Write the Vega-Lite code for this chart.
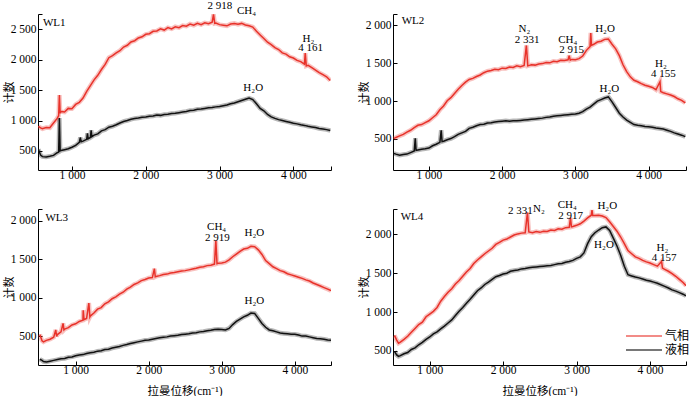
{
"$schema":"https://vega.github.io/schema/vega-lite/v6.json",
"background":"white",
"padding":{"left":3,"top":0,"right":0,"bottom":0},
"config":{"view":{"stroke":null},"font":"Liberation Serif",
"axis":{"grid":false,"domainColor":"#000","tickColor":"#000","labelColor":"#000","labelFont":"Liberation Serif","labelFontSize":11.5,"labelOverlap":false,"tickSize":-4,"domainWidth":1,"tickWidth":1,"titleFont":"Liberation Serif, Noto Sans CJK SC","titleFontSize":11.5,"titleFontWeight":"normal","titleColor":"#000"},
"text":{"font":"Liberation Serif","fontSize":11.5,"color":"#000"}},
"datasets":{
"wl1":[
{"x":545,"气相":905,"液相":525},{"x":575,"气相":880,"液相":430},{"x":600,"气相":865,"液相":405},{"x":650,"气相":885,"液相":400},{"x":700,"气相":880,"液相":410},{"x":750,"气相":960,"液相":425},{"x":800,"气相":1035,"液相":470},{"x":820,"气相":1080,"液相":480},{"x":830,"气相":1420,"液相":1040},{"x":840,"气相":1120,"液相":500},{"x":850,"气相":1150,"液相":505},{"x":900,"气相":1140,"液相":520},{"x":950,"气相":1200,"液相":535},{"x":1000,"气相":1195,"液相":560},{"x":1050,"气相":1265,"液相":590},{"x":1100,"气相":1300,"液相":640},{"x":1113,"液相":720},{"x":1125,"液相":650},{"x":1150,"气相":1370,"液相":660},{"x":1200,"气相":1480,"液相":690},{"x":1210,"液相":790},{"x":1220,"液相":700},{"x":1250,"气相":1575,"液相":720},{"x":1260,"液相":840},{"x":1270,"液相":735},{"x":1300,"气相":1670,"液相":760},{"x":1350,"气相":1745,"液相":780},{"x":1400,"气相":1840,"液相":830},{"x":1450,"气相":1925,"液相":850},{"x":1500,"气相":2035,"液相":890},{"x":1550,"气相":2070,"液相":905},{"x":1600,"气相":2115,"液相":930},{"x":1650,"气相":2150,"液相":960},{"x":1700,"气相":2210,"液相":985},{"x":1750,"气相":2240,"液相":1000},{"x":1800,"气相":2295,"液相":1020},{"x":1850,"气相":2315,"液相":1035},{"x":1900,"气相":2360,"液相":1040},{"x":1950,"气相":2380,"液相":1055},{"x":2000,"气相":2420,"液相":1060},{"x":2050,"气相":2430,"液相":1070},{"x":2100,"气相":2470,"液相":1075},{"x":2150,"气相":2475,"液相":1090},{"x":2200,"气相":2510,"液相":1085},{"x":2250,"气相":2490,"液相":1100},{"x":2300,"气相":2530,"液相":1105},{"x":2350,"气相":2510,"液相":1115},{"x":2400,"气相":2545,"液相":1120},{"x":2450,"气相":2530,"液相":1130},{"x":2500,"气相":2565,"液相":1140},{"x":2550,"气相":2555,"液相":1150},{"x":2600,"气相":2590,"液相":1165},{"x":2650,"气相":2570,"液相":1170},{"x":2700,"气相":2600,"液相":1185},{"x":2750,"气相":2580,"液相":1190},{"x":2800,"气相":2610,"液相":1200},{"x":2850,"气相":2595,"液相":1210},{"x":2900,"气相":2620,"液相":1215},{"x":2918,"气相":2750},{"x":2935,"气相":2600},{"x":2950,"气相":2605,"液相":1225},{"x":3000,"气相":2580,"液相":1230},{"x":3050,"气相":2570,"液相":1245},{"x":3100,"气相":2560,"液相":1255},{"x":3150,"气相":2590,"液相":1275},{"x":3200,"气相":2600,"液相":1290},{"x":3250,"气相":2585,"液相":1310},{"x":3300,"气相":2600,"液相":1330},{"x":3350,"气相":2575,"液相":1350},{"x":3400,"气相":2560,"液相":1370},{"x":3450,"气相":2540,"液相":1345},{"x":3500,"气相":2470,"液相":1275},{"x":3550,"气相":2410,"液相":1200},{"x":3600,"气相":2350,"液相":1160},{"x":3650,"气相":2290,"液相":1100},{"x":3700,"气相":2250,"液相":1060},{"x":3750,"气相":2200,"液相":1035},{"x":3800,"气相":2170,"液相":1015},{"x":3850,"气相":2115,"液相":1000},{"x":3900,"气相":2095,"液相":985},{"x":3950,"气相":2050,"液相":970},{"x":4000,"气相":2030,"液相":955},{"x":4050,"气相":1990,"液相":945},{"x":4100,"气相":1970,"液相":930},{"x":4150,"气相":1930,"液相":920},{"x":4161,"气相":2110},{"x":4175,"气相":1900},{"x":4200,"气相":1910,"液相":905},{"x":4250,"气相":1870,"液相":895},{"x":4300,"气相":1830,"液相":885},{"x":4350,"气相":1790,"液相":870},{"x":4400,"气相":1755,"液相":860},{"x":4450,"气相":1720,"液相":850},{"x":4500,"气相":1660,"液相":835}],
"wl2":[
{"x":520,"气相":505,"液相":310},{"x":550,"气相":520,"液相":300},{"x":600,"气相":540,"液相":285},{"x":650,"气相":560,"液相":295},{"x":700,"气相":590,"液相":300},{"x":750,"气相":615,"液相":320},{"x":800,"气相":650,"液相":340},{"x":814,"液相":510},{"x":825,"液相":350},{"x":850,"气相":680,"液相":355},{"x":900,"气相":690,"液相":365},{"x":950,"气相":715,"液相":370},{"x":1000,"气相":740,"液相":380},{"x":1050,"气相":780,"液相":410},{"x":1100,"气相":820,"液相":430},{"x":1150,"气相":885,"液相":455},{"x":1168,"液相":615},{"x":1180,"液相":465},{"x":1200,"气相":935,"液相":470},{"x":1250,"气相":1005,"液相":490},{"x":1300,"气相":1045,"液相":505},{"x":1350,"气相":1100,"液相":530},{"x":1400,"气相":1155,"液相":560},{"x":1450,"气相":1205,"液相":580},{"x":1500,"气相":1250,"液相":600},{"x":1550,"气相":1285,"液相":640},{"x":1600,"气相":1300,"液相":655},{"x":1650,"气相":1325,"液相":675},{"x":1700,"气相":1345,"液相":690},{"x":1750,"气相":1375,"液相":695},{"x":1800,"气相":1395,"液相":710},{"x":1850,"气相":1405,"液相":715},{"x":1900,"气相":1420,"液相":725},{"x":1950,"气相":1415,"液相":730},{"x":2000,"气相":1435,"液相":735},{"x":2050,"气相":1430,"液相":740},{"x":2100,"气相":1450,"液相":735},{"x":2150,"气相":1445,"液相":740},{"x":2200,"气相":1465,"液相":740},{"x":2250,"气相":1455,"液相":745},{"x":2300,"气相":1470,"液相":750},{"x":2331,"气相":1735},{"x":2350,"气相":1465,"液相":755},{"x":2400,"气相":1480,"液相":760},{"x":2450,"气相":1475,"液相":765},{"x":2500,"气相":1490,"液相":770},{"x":2550,"气相":1495,"液相":775},{"x":2600,"气相":1510,"液相":785},{"x":2650,"气相":1505,"液相":790},{"x":2700,"气相":1525,"液相":800},{"x":2750,"气相":1520,"液相":805},{"x":2800,"气相":1540,"液相":810},{"x":2850,"气相":1535,"液相":815},{"x":2900,"气相":1545,"液相":820},{"x":2915,"气相":1600},{"x":2930,"气相":1540},{"x":2950,"气相":1550,"液相":825},{"x":3000,"气相":1545,"液相":830},{"x":3050,"气相":1560,"液相":840},{"x":3100,"气相":1595,"液相":860},{"x":3150,"气相":1670,"液相":895},{"x":3200,"气相":1720,"液相":920},{"x":3210,"气相":1900},{"x":3220,"气相":1735},{"x":3250,"气相":1750,"液相":960},{"x":3300,"气相":1780,"液相":1000},{"x":3350,"气相":1790,"液相":1020},{"x":3400,"气相":1815,"液相":1040},{"x":3450,"气相":1820,"液相":1055},{"x":3500,"气相":1750,"液相":990},{"x":3550,"气相":1690,"液相":915},{"x":3600,"气相":1600,"液相":840},{"x":3650,"气相":1480,"液相":790},{"x":3700,"气相":1390,"液相":750},{"x":3750,"气相":1320,"液相":720},{"x":3800,"气相":1275,"液相":690},{"x":3850,"气相":1255,"液相":680},{"x":3900,"气相":1230,"液相":675},{"x":3950,"气相":1210,"液相":665},{"x":4000,"气相":1195,"液相":660},{"x":4050,"气相":1180,"液相":655},{"x":4100,"气相":1150,"液相":645},{"x":4155,"气相":1255},{"x":4165,"气相":1125},{"x":4200,"气相":1110,"液相":630},{"x":4250,"气相":1095,"液相":615},{"x":4300,"气相":1080,"液相":600},{"x":4350,"气相":1060,"液相":580},{"x":4400,"气相":1030,"液相":565},{"x":4450,"气相":1010,"液相":550},{"x":4500,"气相":975,"液相":530}],
"wl3":[
{"x":510,"气相":520,"液相":200},{"x":540,"气相":440,"液相":185},{"x":560,"气相":425,"液相":170},{"x":600,"气相":445,"液相":165},{"x":650,"气相":460,"液相":175},{"x":700,"气相":485,"液相":185},{"x":728,"气相":580},{"x":740,"气相":495},{"x":750,"气相":520,"液相":195},{"x":800,"气相":555,"液相":205},{"x":828,"气相":665},{"x":840,"气相":580},{"x":850,"气相":590,"液相":210},{"x":900,"气相":610,"液相":225},{"x":950,"气相":645,"液相":230},{"x":1000,"气相":660,"液相":245},{"x":1050,"气相":690,"液相":255},{"x":1100,"气相":705,"液相":260},{"x":1104,"气相":835},{"x":1115,"气相":715},{"x":1150,"气相":730,"液相":275},{"x":1181,"气相":930},{"x":1195,"气相":750},{"x":1200,"气相":760,"液相":285},{"x":1250,"气相":800,"液相":290},{"x":1300,"气相":850,"液相":305},{"x":1350,"气相":870,"液相":310},{"x":1400,"气相":920,"液相":325},{"x":1450,"气相":945,"液相":330},{"x":1500,"气相":985,"液相":345},{"x":1550,"气相":1010,"液相":355},{"x":1600,"气相":1045,"液相":365},{"x":1650,"气相":1070,"液相":380},{"x":1700,"气相":1110,"液相":390},{"x":1750,"气相":1135,"液相":405},{"x":1800,"气相":1170,"液相":415},{"x":1850,"气相":1190,"液相":425},{"x":1900,"气相":1220,"液相":435},{"x":1950,"气相":1235,"液相":445},{"x":2000,"气相":1255,"液相":450},{"x":2050,"气相":1260,"液相":460},{"x":2078,"气相":1375},{"x":2090,"气相":1270},{"x":2100,"气相":1275,"液相":470},{"x":2150,"气相":1285,"液相":480},{"x":2200,"气相":1300,"液相":485},{"x":2250,"气相":1305,"液相":490},{"x":2300,"气相":1320,"液相":500},{"x":2350,"气相":1325,"液相":505},{"x":2400,"气相":1335,"液相":510},{"x":2450,"气相":1345,"液相":520},{"x":2500,"气相":1350,"液相":525},{"x":2550,"气相":1360,"液相":530},{"x":2600,"气相":1370,"液相":540},{"x":2650,"气相":1380,"液相":545},{"x":2700,"气相":1395,"液相":555},{"x":2750,"气相":1400,"液相":560},{"x":2800,"气相":1415,"液相":570},{"x":2850,"气相":1420,"液相":575},{"x":2900,"气相":1435,"液相":585},{"x":2919,"气相":1740},{"x":2935,"气相":1440},{"x":2950,"气相":1445,"液相":590},{"x":3000,"气相":1450,"液相":585},{"x":3050,"气相":1460,"液相":580},{"x":3100,"气相":1490,"液相":600},{"x":3150,"气相":1530,"液相":650},{"x":3200,"气相":1565,"液相":690},{"x":3250,"气相":1600,"液相":720},{"x":3300,"气相":1630,"液相":750},{"x":3350,"气相":1640,"液相":770},{"x":3400,"气相":1665,"液相":800},{"x":3450,"气相":1660,"液相":795},{"x":3500,"气相":1620,"液相":730},{"x":3550,"气相":1560,"液相":665},{"x":3600,"气相":1480,"液相":615},{"x":3650,"气相":1440,"液相":580},{"x":3700,"气相":1400,"液相":570},{"x":3750,"气相":1375,"液相":555},{"x":3800,"气相":1350,"液相":540},{"x":3850,"气相":1335,"液相":535},{"x":3900,"气相":1310,"液相":530},{"x":3950,"气相":1295,"液相":525},{"x":4000,"气相":1280,"液相":525},{"x":4050,"气相":1265,"液相":515},{"x":4100,"气相":1250,"液相":500},{"x":4150,"气相":1230,"液相":500},{"x":4200,"气相":1215,"液相":490},{"x":4250,"气相":1190,"液相":480},{"x":4300,"气相":1170,"液相":470},{"x":4350,"气相":1150,"液相":465},{"x":4400,"气相":1130,"液相":460},{"x":4450,"气相":1110,"液相":450},{"x":4495,"气相":1090,"液相":445}],
"wl4":[
{"x":520,"气相":700,"液相":495},{"x":550,"气相":640,"液相":450},{"x":575,"气相":600,"液相":430},{"x":600,"气相":615,"液相":440},{"x":650,"气相":650,"液相":465},{"x":700,"气相":690,"液相":480},{"x":750,"气相":740,"液相":520},{"x":800,"气相":790,"液相":540},{"x":850,"气相":840,"液相":580},{"x":900,"气相":870,"液相":610},{"x":950,"气相":940,"液相":650},{"x":1000,"气相":975,"液相":680},{"x":1050,"气相":1010,"液相":720},{"x":1100,"气相":1060,"液相":745},{"x":1150,"气相":1140,"液相":785},{"x":1200,"气相":1200,"液相":820},{"x":1250,"气相":1255,"液相":860},{"x":1300,"气相":1300,"液相":900},{"x":1350,"气相":1360,"液相":955},{"x":1400,"气相":1405,"液相":1010},{"x":1450,"气相":1460,"液相":1060},{"x":1500,"气相":1515,"液相":1115},{"x":1550,"气相":1560,"液相":1165},{"x":1600,"气相":1625,"液相":1220},{"x":1650,"气相":1670,"液相":1275},{"x":1700,"气相":1710,"液相":1310},{"x":1750,"气相":1750,"液相":1355},{"x":1800,"气相":1785,"液相":1385},{"x":1850,"气相":1820,"液相":1420},{"x":1900,"气相":1870,"液相":1455},{"x":1950,"气相":1895,"液相":1470},{"x":2000,"气相":1925,"液相":1490},{"x":2050,"气相":1940,"液相":1500},{"x":2100,"气相":1965,"液相":1525},{"x":2150,"气相":1990,"液相":1535},{"x":2200,"气相":2005,"液相":1540},{"x":2250,"气相":2015,"液相":1555},{"x":2300,"气相":2020,"液相":1560},{"x":2331,"气相":2280},{"x":2350,"气相":2030,"液相":1570},{"x":2400,"气相":2020,"液相":1575},{"x":2450,"气相":2035,"液相":1580},{"x":2500,"气相":2025,"液相":1585},{"x":2550,"气相":2040,"液相":1590},{"x":2600,"气相":2035,"液相":1595},{"x":2650,"气相":2055,"液相":1600},{"x":2700,"气相":2050,"液相":1610},{"x":2750,"气相":2070,"液相":1620},{"x":2800,"气相":2065,"液相":1625},{"x":2850,"气相":2085,"液相":1640},{"x":2900,"气相":2090,"液相":1650},{"x":2917,"气相":2210},{"x":2930,"气相":2095},{"x":2950,"气相":2100,"液相":1665},{"x":3000,"气相":2115,"液相":1690},{"x":3050,"气相":2135,"液相":1710},{"x":3100,"气相":2170,"液相":1760},{"x":3150,"气相":2210,"液相":1880},{"x":3200,"气相":2245,"液相":1970},{"x":3210,"气相":2310},{"x":3220,"气相":2240},{"x":3250,"气相":2240,"液相":2020},{"x":3300,"气相":2245,"液相":2055},{"x":3350,"气相":2235,"液相":2085},{"x":3400,"气相":2215,"液相":2095},{"x":3450,"气相":2160,"液相":2050},{"x":3500,"气相":2100,"液相":1950},{"x":3550,"气相":2040,"液相":1850},{"x":3600,"气相":1965,"液相":1730},{"x":3650,"气相":1880,"液相":1590},{"x":3700,"气相":1790,"液相":1480},{"x":3750,"气相":1750,"液相":1465},{"x":3800,"气相":1710,"液相":1450},{"x":3850,"气相":1690,"液相":1440},{"x":3900,"气相":1665,"液相":1425},{"x":3950,"气相":1645,"液相":1410},{"x":4000,"气相":1630,"液相":1400},{"x":4050,"气相":1610,"液相":1385},{"x":4100,"气相":1590,"液相":1370},{"x":4157,"气相":1650},{"x":4170,"气相":1565},{"x":4200,"气相":1550,"液相":1330},{"x":4250,"气相":1525,"液相":1310},{"x":4300,"气相":1495,"液相":1285},{"x":4350,"气相":1460,"液相":1270},{"x":4400,"气相":1420,"液相":1250},{"x":4450,"气相":1380,"液相":1230},{"x":4490,"气相":1340,"液相":1210}]
},
"columns":2,
"spacing":{"row":39,"column":62},"bounds":"flush",
"resolve":{"scale":{"color":"independent"},"legend":{"color":"independent"}},
"concat":[
{"width":293,"height":156,
"data":{"name":"wl1"},"transform":[{"fold":["气相","液相"],"as":["相","y"]},{"filter":"isValid(datum.y)"}],
"encoding":{"x":{"field":"x","type":"quantitative","scale":{"domain":[540,4510],"nice":false,"zero":false},"axis":{"title":null,"values":[1000,2000,3000,4000,4510],"labelExpr":"datum.value>4400?'':replace(format(datum.value,','),',',' ')","labelPadding":3}},
"y":{"field":"y","type":"quantitative","scale":{"domain":[185,2755],"nice":false,"zero":false},"axis":{"title":"计数","titleFontSize":11,"values":[500,1000,1500,2000,2500,2755],"labelExpr":"datum.value%500!=0?'':replace(format(datum.value,','),',',' ')","labelPadding":6,"titlePadding":-4}},
"color":{"field":"相","type":"nominal","scale":{"domain":["气相","液相"],"range":["#e8322a","#111111"]},"legend":null}},
"layer":[
{"mark":{"type":"line","strokeWidth":4.5,"opacity":0.3,"clip":true}},
{"mark":{"type":"line","strokeWidth":1.5,"clip":true}},
{"data":{"values":[{"t":"WL1","x":760,"y":2610},{"t":"2 918","x":3003,"y":2880},{"t":"CH₄","x":3365,"y":2804},{"t":"H₂","x":4203,"y":2351},{"t":"4 161","x":4235,"y":2196},{"t":"H₂O","x":3456,"y":1533}]},
"transform":[],
"mark":{"type":"text","baseline":"middle","fontSize":11},
"encoding":{"x":{"field":"x","type":"quantitative"},"y":{"field":"y","type":"quantitative"},"text":{"field":"t"},"color":{"value":"#000"}}}
]},
{"width":293,"height":156,
"data":{"name":"wl2"},"transform":[{"fold":["气相","液相"],"as":["相","y"]},{"filter":"isValid(datum.y)"}],
"encoding":{"x":{"field":"x","type":"quantitative","scale":{"domain":[510,4510],"nice":false,"zero":false},"axis":{"title":null,"values":[1000,2000,3000,4000,4510],"labelExpr":"datum.value>4400?'':replace(format(datum.value,','),',',' ')","labelPadding":3}},
"y":{"field":"y","type":"quantitative","scale":{"domain":[90,2150],"nice":false,"zero":false},"axis":{"title":"计数","titleFontSize":11,"values":[500,1000,1500,2000,2150],"labelExpr":"datum.value%500!=0?'':replace(format(datum.value,','),',',' ')","labelPadding":6,"titlePadding":-4}},
"color":{"field":"相","type":"nominal","scale":{"domain":["气相","液相"],"range":["#e8322a","#111111"]},"legend":null}},
"layer":[
{"mark":{"type":"line","strokeWidth":4.5,"opacity":0.3,"clip":true}},
{"mark":{"type":"line","strokeWidth":1.5,"clip":true}},
{"data":{"values":[{"t":"WL2","x":782,"y":2053},{"t":"N₂","x":2304,"y":1947},{"t":"2 331","x":2341,"y":1803},{"t":"CH₄","x":2895,"y":1803},{"t":"2 915","x":2950,"y":1671},{"t":"H₂O","x":3404,"y":1956},{"t":"H₂","x":4168,"y":1496},{"t":"4 155","x":4200,"y":1364},{"t":"H₂O","x":3463,"y":1158}]},
"transform":[],
"mark":{"type":"text","baseline":"middle","fontSize":11},
"encoding":{"x":{"field":"x","type":"quantitative"},"y":{"field":"y","type":"quantitative"},"text":{"field":"t"},"color":{"value":"#000"}}}
]},
{"width":293,"height":156,
"data":{"name":"wl3"},"transform":[{"fold":["气相","液相"],"as":["相","y"]},{"filter":"isValid(datum.y)"}],
"encoding":{"x":{"field":"x","type":"quantitative","scale":{"domain":[485,4495],"nice":false,"zero":false},"axis":{"title":"拉曼位移(cm⁻¹)","values":[1000,2000,3000,4000,4495],"labelExpr":"datum.value>4400?'':replace(format(datum.value,','),',',' ')","labelPadding":3,"titlePadding":10}},
"y":{"field":"y","type":"quantitative","scale":{"domain":[125,2150],"nice":false,"zero":false},"axis":{"title":"计数","titleFontSize":11,"values":[500,1000,1500,2000,2150],"labelExpr":"datum.value%500!=0?'':replace(format(datum.value,','),',',' ')","labelPadding":6,"titlePadding":-4}},
"color":{"field":"相","type":"nominal","scale":{"domain":["气相","液相"],"range":["#e8322a","#111111"]},"legend":null}},
"layer":[
{"mark":{"type":"line","strokeWidth":4.5,"opacity":0.3,"clip":true}},
{"mark":{"type":"line","strokeWidth":1.5,"clip":true}},
{"data":{"values":[{"t":"WL3","x":742,"y":2034},{"t":"CH₄","x":2930,"y":1914},{"t":"2 919","x":2939,"y":1776},{"t":"H₂O","x":3447,"y":1836},{"t":"H₂O","x":3447,"y":957}]},
"transform":[],
"mark":{"type":"text","baseline":"middle","fontSize":11},
"encoding":{"x":{"field":"x","type":"quantitative"},"y":{"field":"y","type":"quantitative"},"text":{"field":"t"},"color":{"value":"#000"}}}
]},
{"width":293,"height":156,
"data":{"name":"wl4"},"transform":[{"fold":["气相","液相"],"as":["相","y"]},{"filter":"isValid(datum.y)"}],
"encoding":{"x":{"field":"x","type":"quantitative","scale":{"domain":[500,4490],"nice":false,"zero":false},"axis":{"title":"拉曼位移(cm⁻¹)","values":[1000,2000,3000,4000,4490],"labelExpr":"datum.value>4400?'':replace(format(datum.value,','),',',' ')","labelPadding":3,"titlePadding":10}},
"y":{"field":"y","type":"quantitative","scale":{"domain":[320,2325],"nice":false,"zero":false},"axis":{"title":"计数","titleFontSize":11,"values":[500,1000,1500,2000,2325],"labelExpr":"datum.value%500!=0?'':replace(format(datum.value,','),',',' ')","labelPadding":6,"titlePadding":-4}},
"color":{"field":"相","type":"nominal","scale":{"domain":["气相","液相"],"range":["#e8322a","#111111"]},"legend":{"title":null,"orient":"none","legendX":244,"legendY":120,"padding":0,"symbolType":"M-3,0H3","symbolSize":144,"symbolStrokeWidth":1.5,"symbolOpacity":0.75,"labelFont":"Liberation Serif, Noto Sans CJK SC","labelFontSize":12,"labelColor":"#000","labelOffset":14,"rowPadding":1}}},
"layer":[
{"mark":{"type":"line","strokeWidth":4.5,"opacity":0.3,"clip":true}},
{"mark":{"type":"line","strokeWidth":1.5,"clip":true}},
{"data":{"values":[{"t":"WL4","x":759,"y":2219},{"t":"2 331","x":2236,"y":2295},{"t":"N₂","x":2486,"y":2324},{"t":"CH₄","x":2873,"y":2379},{"t":"2 917","x":2918,"y":2240},{"t":"H₂O","x":3418,"y":2367},{"t":"H₂O","x":3373,"y":1861},{"t":"H₂","x":4168,"y":1819},{"t":"4 157","x":4191,"y":1692}]},
"transform":[],
"mark":{"type":"text","baseline":"middle","fontSize":11},
"encoding":{"x":{"field":"x","type":"quantitative"},"y":{"field":"y","type":"quantitative"},"text":{"field":"t"},"color":{"value":"#000"}}}
]}
]
}
